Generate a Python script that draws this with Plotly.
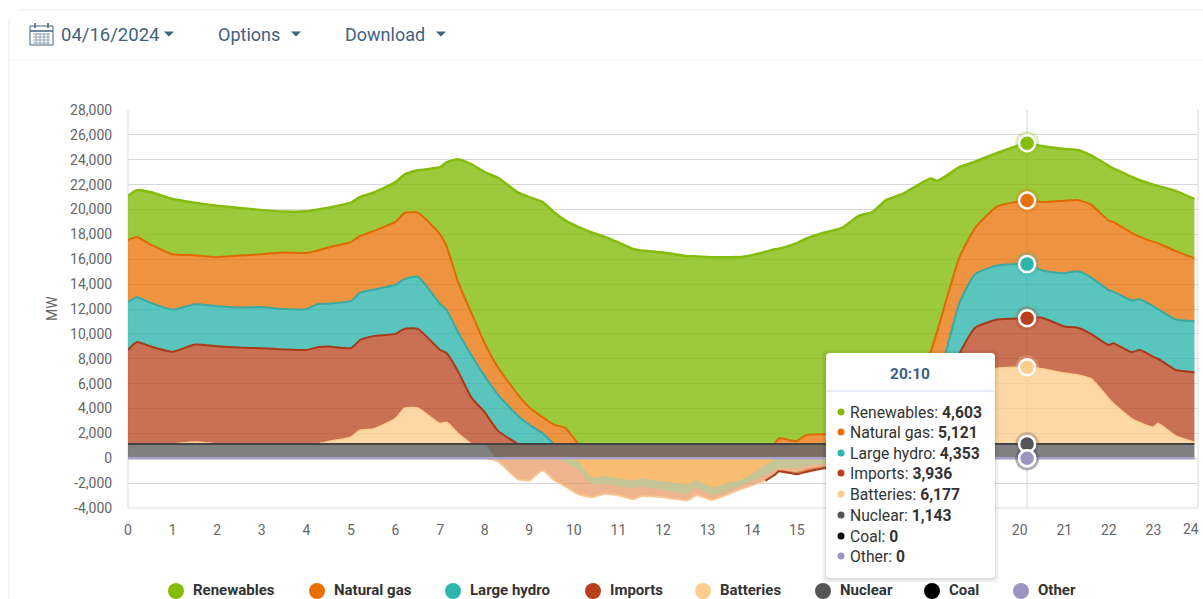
import numpy as np
import plotly.graph_objects as go

hours = [0,.2,.5,1,1.5,2,2.5,3,3.5,4,4.25,4.5,5,5.2,5.5,6,6.2,6.5,7,7.15,7.4,7.7,8,8.3,8.75,9,9.3,9.55,9.8,10.1,
         10.4,10.7,11,11.35,11.5,12,12.55,12.75,13.1,13.4,13.8,14.3,14.5,14.6,15,15.2,15.6,16,16.4,16.7,17,17.4,
         18,18.15,18.65,19,19.5,20.1667,20.5,21,21.3,21.6,22,22.1,22.5,22.7,23,23.1,23.5,23.92]
renewables = [3560,3780,4200,4450,4220,4130,3830,3550,3280,3350,3300,3200,3170,3150,3100,3200,3080,3400,5400,6800,9850,11950,13750,15250,16250,16900,17300,17100,16700,17457,
              17007,16657,16207,15657,15557,15407,15107,15087,15027,15027,15057,15457,15657,15250,15930,15800,16200,16500,17400,17600,18450,18400,
              13970,12090,7230,5350,4300,4603,4500,4170,4020,3950,4400,4310,4500,4550,4600,4600,4850,4750]
natural_gas = [4990,4830,4700,4450,3950,3940,4180,4250,4560,4510,4310,4520,4750,4550,4700,5050,5320,5150,5600,5100,4050,3400,2650,2200,1700,1400,1300,1557,1307,-300,
               -1500,-1450,-1600,-1770,-1650,-1850,-2050,-1770,-2330,-2050,-1650,-500,-150,457,227,707,787,857,957,1057,1157,1400,
               3530,4200,3670,3700,4750,5121,5500,5820,5720,5850,5600,5590,5440,5010,5200,5300,5500,5070]
large_hydro = [3850,3610,3500,3390,3230,3220,3220,3300,3240,3290,3460,3450,3780,3810,3730,3950,4000,4200,3700,3450,3150,3400,2900,2900,2257,1557,857,0,-300,-600,
               -550,-600,-650,-650,-650,-700,-800,-650,-620,-650,-500,-850,-850,-800,-800,-650,-450,-400,-300,-200,-100,200,
               2000,2500,4100,4300,4350,4353,3800,4280,4540,4550,4400,4150,4180,4090,4050,4000,4050,4100]
imports = [7557,8197,7857,7417,7850,7867,7757,7707,7607,7557,7787,7630,7150,7240,7470,6800,6380,6350,5900,5550,5000,3757,2557,1057,0,0,0,0,0,0,
           0,0,0,0,0,0,0,0,0,0,0,0,-50,-100,-180,-200,-150,-150,-100,-50,-50,100,
           1000,1200,3400,4000,3910,3936,4100,3750,3800,3600,4300,4830,5330,5850,5660,5180,5300,5630]
batteries = [0,0,0,0,157,0,0,0,0,0,0,207,557,1107,1207,2057,2877,2907,1657,1757,857,0,0,-240,-1700,-1770,-965,-1750,-1950,-2000,
             -1080,-800,-730,-880,-750,-580,-530,-560,-390,-280,-260,-450,-300,-150,-300,-250,-200,-200,-100,-100,-100,57,
             857,1157,3857,5357,6097,6177,6057,5707,5557,5257,3657,3277,2057,1707,1347,1677,657,147]
nuclear_mw = 1143
coal_mw = 0
other_mw = 0

series_names = ["Renewables","Natural gas","Large hydro","Imports","Batteries","Nuclear","Coal","Other"]
legend_colors = ["#84BC0B","#E87000","#2FB6AC","#B8401C","#FDCD8E","#555555","#000000","#9D95BF"]
y_ticks = list(range(-4000,28001,2000))
x_ticks = list(range(0,16)) + [20,21,22,23]
hover_hour = 20.1667
hover_label = "20:10"

W, H = 1203, 599
L, R, T, B = 128, 1198, 110, 508
def px(x): return (x-L)/(R-L)
def py(y): return (B-y)/(B-T)

t = np.array(hours, float)
ren, gas, hyd, imp, bat = [np.array(a, float) for a in (renewables, natural_gas, large_hydro, imports, batteries)]
nuc = np.full(len(t), float(nuclear_mw))
assert all(len(a) == len(t) for a in (ren, gas, hyd, imp, bat))

pos = lambda a: np.maximum(a, 0)
neg = lambda a: np.minimum(a, 0)
top_nuc = nuc
top_bat = top_nuc + pos(bat)
top_imp = top_bat + pos(imp)
top_hyd = top_imp + pos(hyd)
top_gas = top_hyd + pos(gas)
top_ren = top_gas + pos(ren)
n_gas = neg(gas)
n_hyd = n_gas + neg(hyd)
n_bat = n_hyd + neg(bat)
n_imp = n_bat + neg(imp)

SM = 0.5
def rgba(c, a): return f"rgba({c[0]},{c[1]},{c[2]},{a})"
fig = go.Figure()
def band(up, lo, color, name):
    # corner points are doubled so the smoothed outline keeps square ends
    xs = np.r_[t[0], t, t[-1], t[-1], t[::-1], t[0]]
    ys = np.r_[up[0], up, up[-1], lo[-1], lo[::-1], lo[0]]
    fig.add_trace(go.Scatter(x=xs, y=ys, mode="lines", fill="toself",
                             fillcolor=color, line=dict(width=0, shape="spline", smoothing=SM), hoverinfo="skip", showlegend=False, name=name))
def edge(y, v, color, width, name):
    m = v > 0
    m = m | np.r_[m[1:], False] | np.r_[False, m[:-1]]
    fig.add_trace(go.Scatter(x=t, y=np.where(m, y, np.nan), mode="lines", line=dict(color=color, width=width, shape="spline", smoothing=SM),
                             hoverinfo="skip", showlegend=False, name=name))

# charging / exporting part below zero
low = np.where(n_imp < 0, n_imp, top_nuc)
band(top_nuc, low, rgba((228,140,80),0.65), "Batteries charging")
band(n_bat, n_imp, rgba((200,85,40),0.55), "Imports exports")
band(n_gas, n_hyd, rgba((190,200,150),0.85), "Large hydro below zero")
band(np.zeros_like(t), n_gas, rgba((250,190,110),0.9), "Natural gas below zero")
fig.add_trace(go.Scatter(x=t, y=n_imp, mode="lines", line=dict(color=rgba((248,195,140),0.9), width=2, shape="spline", smoothing=SM),
                         hoverinfo="skip", showlegend=False, name="Below-zero edge"))
edge(n_imp, -imp, "#A83A18", 2, "Imports edge")

# stacked areas
band(top_nuc, np.zeros_like(t), rgba((85,85,85),0.75), "Nuclear")
band(top_bat, top_nuc, rgba((253,205,142),0.8), "Batteries")
band(top_imp, top_bat, rgba((184,64,28),0.75), "Imports")
band(top_hyd, top_imp, rgba((47,182,172),0.8), "Large hydro")
band(top_gas, top_hyd, rgba((232,112,0),0.75), "Natural gas")
band(top_ren, top_gas, rgba((132,188,11),0.8), "Renewables")
edge(top_bat, bat, "#FDCD8E", 1.5, "Batteries line")
edge(top_imp, imp, "#A83A18", 2, "Imports line")
edge(top_hyd, hyd, "#3BA9A2", 2, "Large hydro line")
edge(top_gas, gas, "#DD6A05", 2, "Natural gas line")
edge(top_ren, ren, "#84BC0B", 2.5, "Renewables line")
fig.add_trace(go.Scatter(x=t, y=top_nuc, mode="lines", line=dict(color="#444444", width=2), hoverinfo="skip", showlegend=False, name="Nuclear line"))
fig.add_trace(go.Scatter(x=t, y=np.zeros_like(t), mode="lines", line=dict(color="#A9A3CC", width=2.5), hoverinfo="skip", showlegend=False, name="Other line"))

# hover markers at 20:10
i = hours.index(hover_hour)
marker_y = [top_ren[i], top_gas[i], top_hyd[i], top_imp[i], top_bat[i], top_nuc[i], 0, 0]
marker_x = [hover_hour]*8
fig.add_trace(go.Scatter(x=marker_x, y=marker_y, mode="markers", hoverinfo="skip", showlegend=False, name="Halo",
                         marker=dict(size=24, color=[rgba(tuple(int(c[j:j+2],16) for j in (1,3,5)),0.28) for c in legend_colors], line=dict(width=0))))
fig.add_trace(go.Scatter(x=marker_x, y=marker_y, mode="markers", hoverinfo="skip", showlegend=False, name="Hover points",
                         marker=dict(size=16, color=legend_colors, line=dict(width=2.5, color="white"))))

shapes, ann = [], []
def rrect(x0,y0,x1,y1,r,**kw):
    X=lambda v:f"{px(v):.5f}"; Y=lambda v:f"{py(v):.5f}"
    pts=[(x0+r,y0),(x1-r,y0),(x1,y0),(x1,y0+r),(x1,y1-r),(x1,y1),(x1-r,y1),(x0+r,y1),(x0,y1),(x0,y1-r),(x0,y0+r),(x0,y0),(x0+r,y0)]
    p=f"M{X(pts[0][0])},{Y(pts[0][1])} L{X(pts[1][0])},{Y(pts[1][1])} Q{X(pts[2][0])},{Y(pts[2][1])} {X(pts[3][0])},{Y(pts[3][1])} "
    p+=f"L{X(pts[4][0])},{Y(pts[4][1])} Q{X(pts[5][0])},{Y(pts[5][1])} {X(pts[6][0])},{Y(pts[6][1])} L{X(pts[7][0])},{Y(pts[7][1])} "
    p+=f"Q{X(pts[8][0])},{Y(pts[8][1])} {X(pts[9][0])},{Y(pts[9][1])} L{X(pts[10][0])},{Y(pts[10][1])} Q{X(pts[11][0])},{Y(pts[11][1])} {X(pts[12][0])},{Y(pts[12][1])} Z"
    shapes.append(dict(type="path",path=p,xref="paper",yref="paper",layer="above",**kw))
def line(x0,y0,x1,y1,color,w=1,layer="above"):
    shapes.append(dict(type="line",xref="paper",yref="paper",x0=px(x0),y0=py(y0),x1=px(x1),y1=py(y1),line=dict(color=color,width=w),layer=layer))
def circle(cx,cy,r,color):
    shapes.append(dict(type="circle",xref="paper",yref="paper",x0=px(cx-r),x1=px(cx+r),y0=py(cy-r),y1=py(cy+r),fillcolor=color,line=dict(width=0),layer="above"))
def text(x,y,s,size=13,color="#333333",anchor="left"):
    ann.append(dict(xref="paper",yref="paper",x=px(x),y=py(y),text=s,showarrow=False,xanchor=anchor,yanchor="middle",
                    font=dict(size=size,color=color,family="Roboto"),borderpad=0,borderwidth=0))
def caret(cx,cy,w=5,h=5,color="#41617F"):
    shapes.append(dict(type="path",xref="paper",yref="paper",layer="above",fillcolor=color,line=dict(width=0),
        path=f"M{px(cx-w):.5f},{py(cy-h/2):.5f} L{px(cx+w):.5f},{py(cy-h/2):.5f} L{px(cx):.5f},{py(cy+h/2):.5f} Z"))

# crosshair
shapes.append(dict(type="line",xref="x",yref="paper",x0=hover_hour,x1=hover_hour,y0=0,y1=1,line=dict(color="#CCD6EB",width=1),layer="below"))
# card
line(18,10,1203,10,"#EDEDED"); line(9,19,9,599,"#EDEDED"); line(9,60,1203,60,"#F5F5F5")
# toolbar
BLUE="#41617F"
shapes.append(dict(type="rect",xref="paper",yref="paper",x0=px(30),x1=px(53),y0=py(26),y1=py(45),line=dict(color=BLUE,width=1),layer="above"))
line(30,31,53,31,BLUE,1.5); line(35,23,35,28,BLUE,1.5); line(48,23,48,28,BLUE,1.5)
for gy in (34,37,40,43): line(33,gy,50,gy,"#8FA3B5",1)
for gx in (36,40,44,48): line(gx,33,gx,44,"#8FA3B5",1)
text(61,34.5,"04/16/2024",18.5,BLUE); caret(169,34)
text(218,34.5,"Options",18,BLUE); caret(296,34)
text(345,34.5,"Download",18,BLUE); caret(441,34)
# axis bits
ann.append(dict(xref="paper",yref="paper",x=px(52),y=py(309),text="MW",textangle=-90,showarrow=False,xanchor="center",yanchor="middle",font=dict(size=14,color="#666666",family="Roboto")))
text(1191,529,"24",14,"#666666","center")
# legend
leg_x=[176,317,453,593,703,823,932,1021]
for name,c,x in zip(series_names,legend_colors,leg_x):
    circle(x,591,8,c); text(x+17,589.5,f"<b>{name}</b>",15,"#333333")
# tooltip
for k,a in ((4,0.03),(2.5,0.04),(1,0.06)):
    rrect(826-k,353-k+1,995+k,578+k+1,5,fillcolor=f"rgba(0,0,0,{a})",line=dict(width=0))
rrect(826,353,995,578,4,fillcolor="white",line=dict(width=0))
text(910,374,f"<b>{hover_label}</b>",15.5,"#3D5F80","center")
line(826,391,995,391,"#CCD6EB")
vals=[renewables[i],natural_gas[i],large_hydro[i],imports[i],batteries[i],nuclear_mw,coal_mw,other_mw]
rows=[412,432,453,473,494,515,536,556]
for name,c,v,y in zip(series_names,legend_colors,vals,rows):
    circle(841,y,3.5,c); text(850,y,f"{name}: <b>{v:,}</b>",15.7,"#333333")

fig.update_layout(width=W,height=H,margin=dict(l=L,r=W-R,t=T,b=H-B),paper_bgcolor="white",plot_bgcolor="white",
    showlegend=False,shapes=shapes,annotations=ann,font=dict(family="Roboto",size=14,color="#666666"),
    xaxis=dict(range=[0,24],tickmode="array",tickvals=x_ticks,ticktext=[str(v) for v in x_ticks],showgrid=False,zeroline=False,
               showline=False,ticks="outside",ticklen=9,tickcolor="rgba(0,0,0,0)"),
    yaxis=dict(range=[-4000,28000],tickmode="array",tickvals=y_ticks,ticktext=[f"{v:,}" for v in y_ticks],showgrid=True,gridcolor="#D8D8DC",gridwidth=1,
               zeroline=False,showline=False,ticks="outside",ticklen=12,tickcolor="rgba(0,0,0,0)"))
shapes_frame=[dict(type="line",xref="paper",yref="paper",x0=0,x1=0,y0=0,y1=1,line=dict(color="#DDDDDD",width=1),layer="below"),
              dict(type="line",xref="paper",yref="paper",x0=1,x1=1,y0=0,y1=1,line=dict(color="#DDDDDD",width=1),layer="below"),
              dict(type="line",xref="paper",yref="paper",x0=0,x1=1,y0=0,y1=0,line=dict(color="#DDDDDD",width=1),layer="below")]
fig.update_layout(shapes=list(fig.layout.shapes)+shapes_frame)
fig.write_html("out.html",config={"displayModeBar":False},post_script="document.body.style.margin='0';document.body.style.overflow='hidden';")
